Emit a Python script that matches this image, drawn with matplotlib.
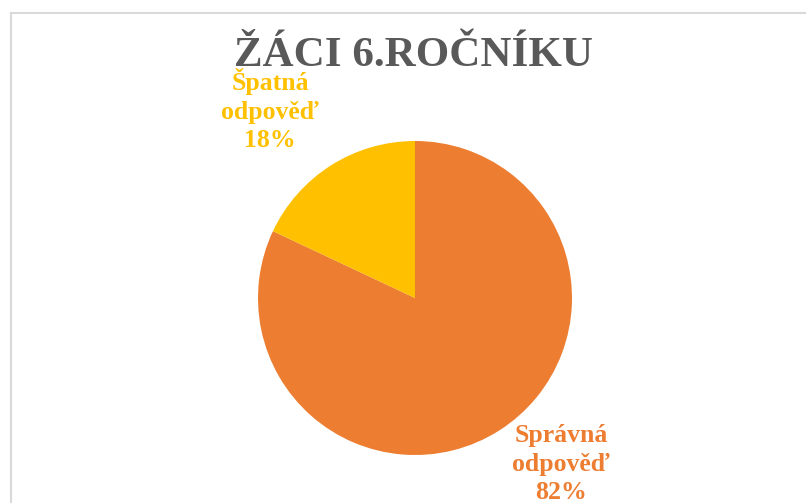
import matplotlib.pyplot as plt
from matplotlib.lines import Line2D

# data
categories = ['Správná\nodpověď', 'Špatná\nodpověď']
values = [82, 18]
colors = ['#ED7D31', '#FFC000']

W, H = 806, 503
fig = plt.figure(figsize=(W / 100, H / 100), dpi=100)
ax = fig.add_axes([0, 0, 1, 1])

wedges, _ = ax.pie(values, colors=colors, startangle=90, counterclock=False,
                   center=(415, H - 298), radius=157, frame=True,
                   wedgeprops=dict(linewidth=0))
ax.set_xlim(0, W)
ax.set_ylim(0, H)
ax.set_aspect('equal')
ax.set_axis_off()

# data labels (the lower one runs off the bottom edge, as in the original)
label_pos = [(561, H - 464), (270, H - 110)]
for name, v, c, (x, y) in zip(categories, values, colors, label_pos):
    ax.text(x, y, f'{name}\n{v}%', ha='center', va='center', color=c,
            fontsize=18.5, fontweight='bold', family='Liberation Serif',
            linespacing=1.3)

# title
fig.text(413 / W, 1 - 56 / H, 'ŽÁCI 6.ROČNÍKU', ha='center', va='center',
         fontsize=31, fontweight='bold', family='Liberation Serif', color='#595959')

# chart border (cropped, only top and left visible)
fig.add_artist(Line2D([10.5 / W, 10.5 / W], [0, 1 - 12.5 / H], transform=fig.transFigure,
                      color='#D9D9D9', lw=1.5))
fig.add_artist(Line2D([10.5 / W, 1], [1 - 12.5 / H, 1 - 12.5 / H], transform=fig.transFigure,
                      color='#D9D9D9', lw=1.5))

fig.savefig('out.png', dpi=100)
